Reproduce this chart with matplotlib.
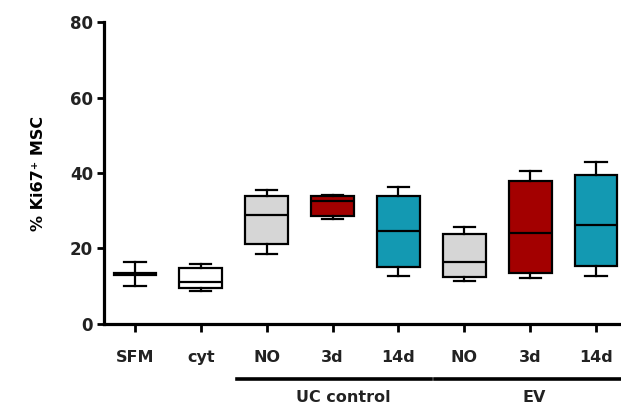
import matplotlib
matplotlib.use("Agg")
import matplotlib.pyplot as plt
from matplotlib.lines import Line2D

# categories and box statistics
labels = ['SFM', 'cyt', 'NO', '3d', '14d', 'NO', '3d', '14d']
whislo = [10.1, 8.6, 18.5, 27.8, 12.8, 11.4, 12.1, 12.8]
q1 = [12.9, 9.5, 21.3, 28.7, 15.0, 12.5, 13.4, 15.3]
med = [13.2, 11.1, 29.0, 32.5, 24.5, 16.4, 24.1, 26.3]
q3 = [13.6, 14.7, 33.8, 33.9, 34.0, 23.8, 37.9, 39.6]
whishi = [16.4, 15.9, 35.5, 34.1, 36.2, 25.8, 40.4, 42.8]
fills = ['white', 'white', '#d6d6d6', '#a30000', '#1399b2',
         '#d6d6d6', '#a30000', '#1399b2']

groups = ['UC control', 'EV']
group_spans = [(1.55, 4.50), (4.56, 7.6)]
group_text_x = [3.17, 6.06]

plt.rcParams['font.family'] = ['DejaVu Sans']
plt.rcParams['font.weight'] = 'bold'
plt.rcParams['axes.labelweight'] = 'bold'
plt.rcParams['text.color'] = '#222222'
plt.rcParams['xtick.labelcolor'] = '#222222'
plt.rcParams['ytick.labelcolor'] = '#222222'

fig = plt.figure(figsize=(6.21, 4.08), dpi=100)
ax = fig.add_axes([0.1675, 0.206, 0.8325, 0.740])

stats = []
for i in range(len(labels)):
    stats.append({'whislo': whislo[i], 'q1': q1[i], 'med': med[i],
                  'q3': q3[i], 'whishi': whishi[i], 'fliers': []})

lw = 1.6
bp = ax.bxp(stats, positions=range(len(labels)), widths=0.65,
            patch_artist=True, showfliers=False,
            boxprops=dict(linewidth=lw, edgecolor='black'),
            medianprops=dict(color='black', linewidth=lw),
            whiskerprops=dict(color='black', linewidth=lw),
            capprops=dict(color='black', linewidth=lw),
            capwidths=0.32)
for patch, c in zip(bp['boxes'], fills):
    patch.set_facecolor(c)

ax.set_xlim(-0.47, 7.38)
ax.set_ylim(0, 80)
ax.set_yticks([0, 20, 40, 60, 80])
ax.set_xticks(range(len(labels)))
ax.set_xticklabels(labels)

for s in ['top', 'right']:
    ax.spines[s].set_visible(False)
for s in ['left', 'bottom']:
    ax.spines[s].set_linewidth(2.3)

ax.tick_params(axis='x', direction='out', length=6, width=2, pad=13, labelsize=11.5)
ax.tick_params(axis='y', direction='out', length=5, width=2, pad=3, labelsize=12)

ax.set_ylabel('% Ki67\u207a MSC', fontsize=11.5, labelpad=17)

# group lines and labels under the axis
trans = ax.get_xaxis_transform()
for name, (x0, x1), tx in zip(groups, group_spans, group_text_x):
    ax.add_line(Line2D([x0, x1], [-0.182, -0.182], transform=trans,
                       color='black', linewidth=2.6, clip_on=False))
    ax.text(tx, -0.245, name, transform=trans, ha='center', va='center',
            fontsize=11.5)

fig.savefig('out.png', dpi=100)
